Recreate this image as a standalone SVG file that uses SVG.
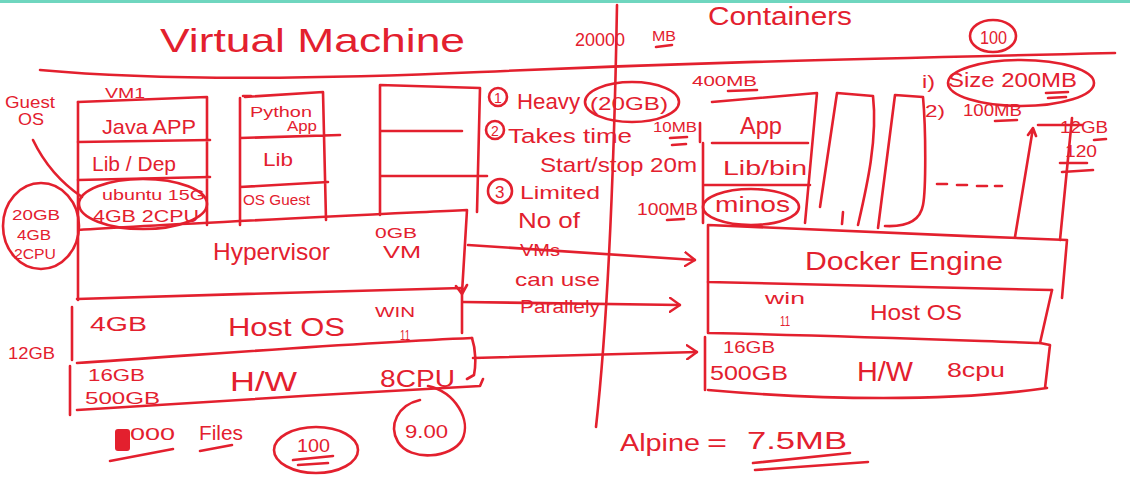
<svg xmlns="http://www.w3.org/2000/svg" width="1130" height="487" viewBox="0 0 1130 487">
<style>
.s{fill:none;stroke:#e3202e;stroke-width:2.6;stroke-linecap:round;stroke-linejoin:round}
.t{fill:#e3202e;font-family:"Liberation Sans","DejaVu Sans",sans-serif}
</style>
<defs>
<marker id="chev" viewBox="0 0 12 16" refX="11" refY="8" markerWidth="12" markerHeight="16" markerUnits="userSpaceOnUse" orient="auto">
<path d="M1,1 L11,8 L1,15" fill="none" stroke="#e3202e" stroke-width="2.4" stroke-linecap="round" stroke-linejoin="round"/>
</marker>
</defs>
<rect x="0" y="0" width="1130" height="487" fill="#ffffff"/>
<rect x="0" y="0" width="1130" height="3" fill="#6fd6bf"/>

<g id="headings">
<text class="t" x="160" y="52" font-size="34" textLength="305" lengthAdjust="spacingAndGlyphs">Virtual Machine</text>
<text class="t" x="575" y="46" font-size="18" textLength="50" lengthAdjust="spacingAndGlyphs">20000</text>
<text class="t" x="652" y="41" font-size="15" textLength="24" lengthAdjust="spacingAndGlyphs">MB</text>
<path class="s" d="M656,47 L672,45"/>
<text class="t" x="708" y="25" font-size="26" textLength="144" lengthAdjust="spacingAndGlyphs">Containers</text>
<ellipse class="s" cx="993" cy="36" rx="23" ry="16"/>
<text class="t" x="980" y="44" font-size="18" textLength="27" lengthAdjust="spacingAndGlyphs">100</text>
<path class="s" d="M40,70 C150,80 300,80 480,72 S800,60 1115,53"/>
<path class="s" d="M617,5 C615,120 610,300 596,427"/>
</g>

<g id="guest-os-note">
<text class="t" x="5" y="108" font-size="16" textLength="50" lengthAdjust="spacingAndGlyphs">Guest</text>
<text class="t" x="18" y="125" font-size="16" textLength="26" lengthAdjust="spacingAndGlyphs">OS</text>
<path class="s" d="M33,140 C45,165 60,182 82,197"/>
<ellipse class="s" cx="41" cy="226" rx="38" ry="43"/>
<text class="t" x="12" y="220" font-size="15" textLength="48" lengthAdjust="spacingAndGlyphs">20GB</text>
<text class="t" x="17" y="240" font-size="14" textLength="34" lengthAdjust="spacingAndGlyphs">4GB</text>
<text class="t" x="14" y="259" font-size="14" textLength="42" lengthAdjust="spacingAndGlyphs">2CPU</text>
</g>

<g id="vm1">
<text class="t" x="105" y="98" font-size="15" textLength="40" lengthAdjust="spacingAndGlyphs">VM1</text>
<path class="s" d="M78,102 L207,97 L207,225 M78,142 L210,140 M78,180 L210,177"/>
<text class="t" x="102" y="134" font-size="21" textLength="94" lengthAdjust="spacingAndGlyphs">Java APP</text>
<text class="t" x="92" y="171" font-size="21" textLength="84" lengthAdjust="spacingAndGlyphs">Lib / Dep</text>
<ellipse class="s" cx="143" cy="204" rx="64" ry="25"/>
<text class="t" x="102" y="200" font-size="15" textLength="103" lengthAdjust="spacingAndGlyphs">ubuntu 15G</text>
<text class="t" x="93" y="222" font-size="16" textLength="106" lengthAdjust="spacingAndGlyphs">4GB  2CPU</text>
</g>

<g id="vm2">
<path class="s" d="M243,96 L251,96 M245,97 L323,92 L326,220 M240,98 L240,225 M240,138 L340,135 M240,187 L328,182"/>
<text class="t" x="250" y="117" font-size="14" textLength="62" lengthAdjust="spacingAndGlyphs">Python</text>
<text class="t" x="287" y="131" font-size="14" textLength="30" lengthAdjust="spacingAndGlyphs">App</text>
<text class="t" x="263" y="166" font-size="19" textLength="30" lengthAdjust="spacingAndGlyphs">Lib</text>
<text class="t" x="243" y="205" font-size="14" textLength="67" lengthAdjust="spacingAndGlyphs">OS Guest</text>
</g>

<g id="vm3">
<path class="s" d="M380,85 L480,88 L477,212 M380,85 L380,215 M380,131 L462,131 M380,176 L487,176"/>
</g>

<g id="hypervisor">
<path class="s" d="M78,102 L78,300 M78,230 C150,225 300,218 467,210 L462,293 M456,286 L462,294 L467,285"/>
<text class="t" x="213" y="260" font-size="24" textLength="117" lengthAdjust="spacingAndGlyphs">Hypervisor</text>
<text class="t" x="375" y="238" font-size="15" textLength="42" lengthAdjust="spacingAndGlyphs">0GB</text>
<text class="t" x="383" y="258" font-size="17" textLength="38" lengthAdjust="spacingAndGlyphs">VM</text>
</g>

<g id="host-os-vm">
<path class="s" d="M77,299 C200,295 350,291 462,288 L462,333 M72,307 L72,360 M77,363 C200,355 350,343 472,338"/>
<text class="t" x="90" y="331" font-size="20" textLength="57" lengthAdjust="spacingAndGlyphs">4GB</text>
<text class="t" x="228" y="336" font-size="26" textLength="117" lengthAdjust="spacingAndGlyphs">Host OS</text>
<text class="t" x="375" y="317" font-size="15" textLength="40" lengthAdjust="spacingAndGlyphs">WIN</text>
<text class="t" x="400" y="340" font-size="15" textLength="10" lengthAdjust="spacingAndGlyphs">11</text>
<text class="t" x="8" y="359" font-size="17" textLength="47" lengthAdjust="spacingAndGlyphs">12GB</text>
</g>

<g id="hw-vm">
<path class="s" d="M472,338 C476,350 476,365 474,375 L467,379 M70,366 L70,415 M77,410 C200,402 350,393 480,386 L483,379"/>
<text class="t" x="88" y="381" font-size="16" textLength="57" lengthAdjust="spacingAndGlyphs">16GB</text>
<text class="t" x="85" y="404" font-size="16" textLength="75" lengthAdjust="spacingAndGlyphs">500GB</text>
<text class="t" x="230" y="391" font-size="28" textLength="67" lengthAdjust="spacingAndGlyphs">H/W</text>
<text class="t" x="380" y="387" font-size="24" textLength="75" lengthAdjust="spacingAndGlyphs">8CPU</text>
</g>

<g id="bottom-notes-vm">
<rect x="115" y="429" width="15" height="22" rx="3" fill="#e3202e"/>
<text class="t" x="130" y="440" font-size="16" textLength="45" lengthAdjust="spacingAndGlyphs">000</text>
<text class="t" x="199" y="440" font-size="21" textLength="44" lengthAdjust="spacingAndGlyphs">Files</text>
<path class="s" d="M110,461 L173,449 M200,451 L232,445"/>
<ellipse class="s" cx="316" cy="450" rx="42" ry="23"/>
<text class="t" x="297" y="452" font-size="19" textLength="33" lengthAdjust="spacingAndGlyphs">100</text>
<path class="s" d="M293,460 L333,456 M298,465 L328,463"/>
<path class="s" d="M428,386 C455,392 472,420 462,440 C452,458 410,462 398,442 C388,425 398,405 420,400"/>
<text class="t" x="405" y="438" font-size="18" textLength="43" lengthAdjust="spacingAndGlyphs">9.00</text>
</g>

<g id="vm-drawbacks">
<circle class="s" cx="498" cy="97" r="9"/>
<text class="t" x="494" y="103" font-size="14">1</text>
<text class="t" x="517" y="109" font-size="22" textLength="63" lengthAdjust="spacingAndGlyphs">Heavy</text>
<ellipse class="s" cx="632" cy="102" rx="47" ry="20"/>
<text class="t" x="590" y="110" font-size="19" textLength="78" lengthAdjust="spacingAndGlyphs">(20GB)</text>
<circle class="s" cx="495" cy="130" r="9"/>
<text class="t" x="491" y="136" font-size="14">2</text>
<text class="t" x="508" y="143" font-size="20" textLength="124" lengthAdjust="spacingAndGlyphs">Takes time</text>
<text class="t" x="540" y="172" font-size="21" textLength="157" lengthAdjust="spacingAndGlyphs">Start/stop 20m</text>
<circle class="s" cx="500" cy="191" r="12"/>
<text class="t" x="495" y="198" font-size="17">3</text>
<text class="t" x="520" y="199" font-size="18" textLength="80" lengthAdjust="spacingAndGlyphs">Limited</text>
<text class="t" x="518" y="228" font-size="22" textLength="62" lengthAdjust="spacingAndGlyphs">No of</text>
<text class="t" x="520" y="256" font-size="16" textLength="40" lengthAdjust="spacingAndGlyphs">VMs</text>
<text class="t" x="515" y="286" font-size="19" textLength="85" lengthAdjust="spacingAndGlyphs">can use</text>
<text class="t" x="520" y="313" font-size="19" textLength="80" lengthAdjust="spacingAndGlyphs">Parallely</text>
<text class="t" x="653" y="132" font-size="15" textLength="44" lengthAdjust="spacingAndGlyphs">10MB</text>
<path class="s" d="M670,138 L687,137 M672,145 L686,144"/>
<text class="t" x="637" y="215" font-size="17" textLength="61" lengthAdjust="spacingAndGlyphs">100MB</text>
<path class="s" d="M667,220 L684,219"/>
<text class="t" x="692" y="86" font-size="15" textLength="65" lengthAdjust="spacingAndGlyphs">400MB</text>
<path class="s" d="M728,91 L757,90"/>
</g>

<g id="container1">
<path class="s" d="M712,102 L817,93 L805,223 M700,123 L700,142 M703,143 L703,223 M712,143 L808,143 M705,185 L810,185"/>
<text class="t" x="740" y="134" font-size="23" textLength="42" lengthAdjust="spacingAndGlyphs">App</text>
<text class="t" x="723" y="175" font-size="21" textLength="84" lengthAdjust="spacingAndGlyphs">Lib/bin</text>
<ellipse class="s" cx="751" cy="207" rx="48" ry="18"/>
<text class="t" x="715" y="212" font-size="22" textLength="75" lengthAdjust="spacingAndGlyphs">minos</text>
</g>

<g id="container2">
<path class="s" d="M820,207 L837,93 L873,96 C878,140 866,190 858,225 M842,224 L843,212"/>
</g>

<g id="container3">
<path class="s" d="M878,228 L895,95 L923,97 C926,130 926,190 923,205 C920,222 905,227 885,226"/>
</g>

<g id="container-more">
<path class="s" d="M937,184 L947,184 M957,185 L967,185 M977,186 L987,186 M995,186 L1002,186"/>
</g>

<g id="containerN">
<path class="s" d="M1015,237 L1033,128 M1028,135 L1033,128 L1036,136 M1038,125 L1082,125 M1072,118 L1060,240"/>
<text class="t" x="1060" y="133" font-size="16" textLength="48" lengthAdjust="spacingAndGlyphs">12GB</text>
<path class="s" d="M1094,140 L1106,139"/>
<text class="t" x="1065" y="157" font-size="16" textLength="32" lengthAdjust="spacingAndGlyphs">120</text>
<path class="s" d="M1060,163 L1087,163 M1062,172 L1093,170"/>
</g>

<g id="container-notes">
<text class="t" x="922" y="88" font-size="18" textLength="13" lengthAdjust="spacingAndGlyphs">i)</text>
<ellipse class="s" cx="1021" cy="83" rx="73" ry="23"/>
<text class="t" x="948" y="87" font-size="20" textLength="129" lengthAdjust="spacingAndGlyphs">Size 200MB</text>
<path class="s" d="M1046,93 L1068,92 M1048,98 L1066,97"/>
<text class="t" x="925" y="117" font-size="17" textLength="20" lengthAdjust="spacingAndGlyphs">2)</text>
<text class="t" x="963" y="116" font-size="16" textLength="59" lengthAdjust="spacingAndGlyphs">100MB</text>
<path class="s" d="M995,121 L1017,120"/>
</g>

<g id="docker-engine">
<path class="s" d="M708,225 L708,282 M708,225 C850,230 950,236 1067,240 L1062,298 M708,282 C850,285 950,288 1052,290"/>
<text class="t" x="805" y="270" font-size="25" textLength="198" lengthAdjust="spacingAndGlyphs">Docker Engine</text>
</g>

<g id="host-os-ct">
<path class="s" d="M708,282 L708,333 M1052,290 L1040,343 M708,333 C850,336 950,340 1040,343"/>
<text class="t" x="765" y="304" font-size="17" textLength="40" lengthAdjust="spacingAndGlyphs">win</text>
<text class="t" x="780" y="326" font-size="15" textLength="10" lengthAdjust="spacingAndGlyphs">11</text>
<text class="t" x="870" y="320" font-size="22" textLength="92" lengthAdjust="spacingAndGlyphs">Host OS</text>
</g>

<g id="hw-ct">
<path class="s" d="M705,337 L705,390 M1040,343 L1050,345 L1045,388 M708,390 C820,400 950,402 1047,388"/>
<text class="t" x="723" y="353" font-size="16" textLength="52" lengthAdjust="spacingAndGlyphs">16GB</text>
<text class="t" x="710" y="380" font-size="20" textLength="78" lengthAdjust="spacingAndGlyphs">500GB</text>
<text class="t" x="857" y="381" font-size="28" textLength="56" lengthAdjust="spacingAndGlyphs">H/W</text>
<text class="t" x="947" y="377" font-size="21" textLength="58" lengthAdjust="spacingAndGlyphs">8cpu</text>
</g>

<g id="alpine-note">
<text class="t" x="620" y="451" font-size="23" textLength="80" lengthAdjust="spacingAndGlyphs">Alpine</text>
<text class="t" x="707" y="451" font-size="23" textLength="20" lengthAdjust="spacingAndGlyphs">=</text>
<text class="t" x="747" y="449" font-size="23" textLength="100" lengthAdjust="spacingAndGlyphs">7.5MB</text>
<path class="s" d="M753,463 L850,453 M755,470 L868,462"/>
</g>

<g id="connectors">
<path class="s" d="M468,245 L695,260" marker-end="url(#chev)"/>
<path class="s" d="M463,302 L680,305" marker-end="url(#chev)"/>
<path class="s" d="M473,358 L697,352" marker-end="url(#chev)"/>
</g>
</svg>
